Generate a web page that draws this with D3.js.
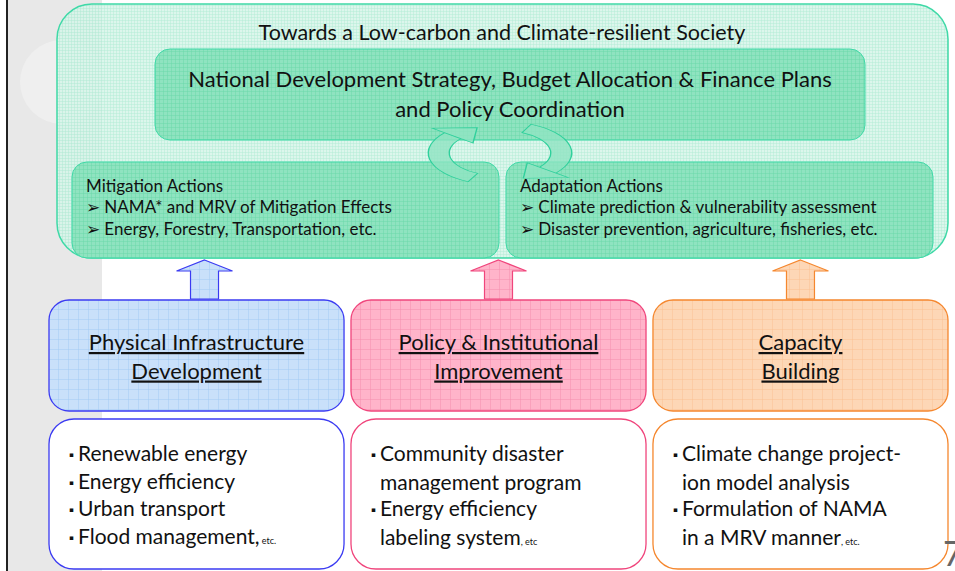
<!DOCTYPE html>
<html lang="en">
<head>
<meta charset="UTF-8">
<title>Towards a Low-carbon and Climate-resilient Society</title>
<style>
  body { margin: 0; background: #fff; }
  svg { display: block; font-family: 'Lato', 'Open Sans', sans-serif; }
</style>
</head>
<body>
<svg id="chart" width="955" height="571"></svg>
<script src="https://d3js.org/d3.v7.min.js"></script>
<script>
// ---- content ----
const title = "Towards a Low-carbon and Climate-resilient Society";
const strategyLines = ["National Development Strategy, Budget Allocation & Finance Plans", "and Policy Coordination"];
const actionTitles = ["Mitigation Actions", "Adaptation Actions"];
const actionItems = [
  ["NAMA* and MRV of Mitigation Effects", "Energy, Forestry, Transportation, etc."],
  ["Climate prediction & vulnerability assessment", "Disaster prevention, agriculture, fisheries, etc."]
];
const pillars = ["infra", "policy", "capacity"];
const pillarTitles = [
  ["Physical Infrastructure", "Development"],
  ["Policy & Institutional", "Improvement"],
  ["Capacity", "Building"]
];
// each line: [bullet?, text, small suffix]
const pillarItems = [
  [[true, "Renewable energy", ""], [true, "Energy efficiency", ""], [true, "Urban transport", ""], [true, "Flood management,", " etc."]],
  [[true, "Community disaster", ""], [false, "management program", ""], [true, "Energy efficiency", ""], [false, "labeling system", ", etc"]],
  [[true, "Climate change project-", ""], [false, "ion model analysis", ""], [true, "Formulation of NAMA", ""], [false, "in a MRV manner", ", etc."]]
];
const pillarColors = {
  infra:    { stroke: "#3b3bf2", fill: "#c9e0fa", grid: "#a3cbf4" },
  policy:   { stroke: "#f0457c", fill: "#ffb4ca", grid: "#f58fae" },
  capacity: { stroke: "#f5872e", fill: "#fdd7b6", grid: "#fbc193" }
};

// ---- layout ----
const W = 955, H = 571;
const svg = d3.select("#chart");
const defs = svg.append("defs");

const col = d3.scaleBand().domain(pillars).range([49, 948]).paddingInner(0.023);
const actionCol = d3.scaleBand().domain([0, 1]).range([72, 933]).paddingInner(0.016);
const arrowOffset = { infra: 8, policy: 0, capacity: 0 };

// patterns
function gridPattern(id, base, line, step, sw) {
  const p = defs.append("pattern").attr("id", id).attr("patternUnits", "userSpaceOnUse")
    .attr("width", step).attr("height", step);
  p.append("rect").attr("width", step).attr("height", step).attr("fill", base);
  p.append("path").attr("d", `M${step},0V${step}M0,${step}H${step}`)
    .attr("stroke", line).attr("stroke-width", sw).attr("fill", "none");
}
gridPattern("g-outer", "#d6f5e9", "#a6e9cf", 3, 1);
gridPattern("g-inner", "#8fe3c0", "#6ad9aa", 4, 1);
pillars.forEach(k => gridPattern("g-" + k, pillarColors[k].fill, pillarColors[k].grid, 10, 1));

// left grey band and frame line
svg.append("rect").attr("x", 8).attr("y", 0).attr("width", 94).attr("height", H).attr("fill", "#e8e8e8");
svg.append("circle").attr("cx", 62).attr("cy", 82).attr("r", 42).attr("fill", "#efefef");
svg.append("line").attr("x1", 7).attr("x2", 7).attr("y1", 0).attr("y2", H)
  .attr("stroke", "#222").attr("stroke-width", 2);

// outer green box
svg.append("rect").attr("x", 57).attr("y", 4).attr("width", 891).attr("height", 254)
  .attr("rx", 35).attr("fill", "url(#g-outer)").attr("fill-opacity", 0.85)
  .attr("stroke", "#3fd9a7").attr("stroke-width", 1.5);

// strategy box
svg.append("rect").attr("x", 155).attr("y", 49).attr("width", 710).attr("height", 91)
  .attr("rx", 15).attr("fill", "url(#g-inner)").attr("stroke", "#3fd9a7").attr("stroke-width", 1);

// action boxes
const act = svg.selectAll("g.action").data(actionTitles).join("g").attr("class", "action")
  .attr("transform", (d, i) => `translate(${actionCol(i)},162)`);
act.append("rect").attr("width", actionCol.bandwidth()).attr("height", 96).attr("rx", 15)
  .attr("fill", "url(#g-inner)").attr("stroke", "#3fd9a7").attr("stroke-width", 1);

// cycle arrows between strategy and actions
const arcGen = d3.arc().innerRadius(29).outerRadius(41);
function cycleArrow(a0, a1) {
  const g = svg.append("g").attr("transform", "translate(500,153) scale(1.75,0.78)");
  const pt = (r, ang) => [r * Math.sin(ang), -r * Math.cos(ang)];
  const head = [pt(20, a1), pt(50, a1), pt(35, a1 + 0.5)];
  g.append("path").attr("d", arcGen({ startAngle: a0, endAngle: a1 }) + "M" + head.join("L") + "Z")
    .attr("fill", "#8fe3c2").attr("fill-opacity", 0.8).attr("stroke", "#2fd09c").attr("stroke-width", 0.8);
}
cycleArrow(3.6, 5.4);
cycleArrow(0.45, 2.25);

// texts of the upper block
svg.append("text").attr("x", 502).attr("y", 40).attr("text-anchor", "middle")
  .attr("font-size", 21.5).attr("fill", "#111").text(title);
svg.selectAll("text.strategy").data(strategyLines).join("text").attr("class", "strategy")
  .attr("x", 510).attr("y", (d, i) => 87 + i * 30).attr("text-anchor", "middle")
  .attr("font-size", 22).attr("fill", "#111").text(d => d);
act.append("text").attr("x", 14).attr("y", 30).attr("font-size", 17).attr("fill", "#111").text(d => d);
act.each(function(d, i) {
  d3.select(this).selectAll("text.item").data(actionItems[i]).join("text").attr("class", "item")
    .attr("x", 14).attr("y", (e, j) => 51 + j * 22).attr("font-size", 17).attr("fill", "#111")
    .text(e => "\u27A2 " + e);
});

// pillar up arrows
pillars.forEach(k => {
  const x = col(k) + col.bandwidth() / 2 + arrowOffset[k];
  const pts = [[x, 260], [x + 28, 271], [x + 14, 271], [x + 14, 299], [x - 14, 299], [x - 14, 271], [x - 28, 271]];
  svg.append("path").attr("d", "M" + pts.join("L") + "Z")
    .attr("fill", "url(#g-" + k + ")").attr("stroke", pillarColors[k].stroke).attr("stroke-width", 1.2);
});

// pillar title boxes
const pil = svg.selectAll("g.pillar").data(pillars).join("g").attr("class", "pillar")
  .attr("transform", d => `translate(${col(d)},300)`);
pil.append("rect").attr("width", col.bandwidth()).attr("height", 111).attr("rx", 20)
  .attr("fill", d => "url(#g-" + d + ")").attr("stroke", d => pillarColors[d].stroke).attr("stroke-width", 1.3);
pil.each(function(d, i) {
  d3.select(this).selectAll("text.ttl").data(pillarTitles[i]).join("text").attr("class", "ttl")
    .attr("x", col.bandwidth() / 2).attr("y", (e, j) => 50 + j * 28.5).attr("text-anchor", "middle")
    .attr("font-size", 22).attr("fill", "#111").attr("text-decoration", "underline").text(e => e);
});

// pillar item boxes
const textX = { infra: 29, policy: 29, capacity: 29 };
const itm = svg.selectAll("g.items").data(pillars).join("g").attr("class", "items")
  .attr("transform", d => `translate(${col(d)},419)`);
itm.append("rect").attr("width", col.bandwidth()).attr("height", 150).attr("rx", 25)
  .attr("fill", "#fff").attr("stroke", d => pillarColors[d].stroke).attr("stroke-width", 1.3);
itm.each(function(d, i) {
  const t = d3.select(this).selectAll("text.it").data(pillarItems[i]).join("text").attr("class", "it")
    .attr("x", textX[d]).attr("y", (e, j) => 42 + j * 27.5).attr("font-size", 21).attr("fill", "#111");
  t.append("tspan").attr("x", textX[d] - 13).attr("font-family", "'Noto Sans CJK JP'").attr("font-size", 13)
    .attr("dy", -1).text(e => e[0] ? "\u25AA" : "");
  t.append("tspan").attr("x", textX[d]).attr("dy", 1).text(e => e[1]);
  t.append("tspan").attr("font-size", 9).text(e => e[2]);
});

// page number, cut off at the edge as in the slide
svg.append("text").attr("x", 943).attr("y", 566).attr("font-size", 34).attr("fill", "#666").text("7");
</script>
</body>
</html>
